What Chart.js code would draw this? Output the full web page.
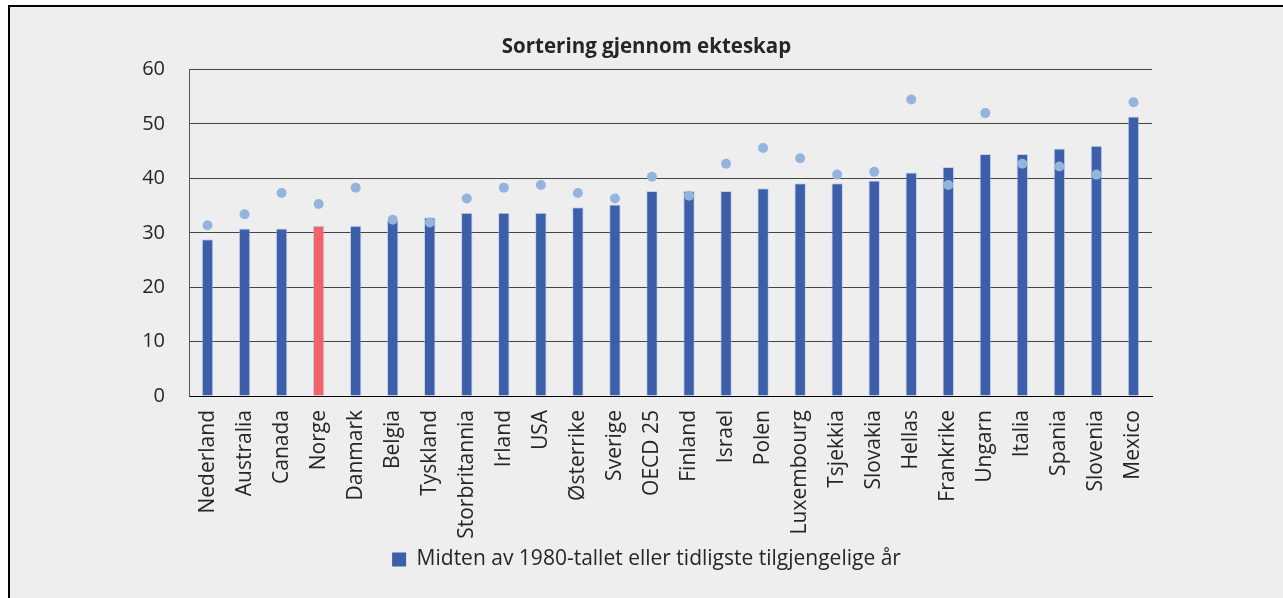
<!DOCTYPE html>
<html>
<head>
<meta charset="utf-8">
<script src="https://cdn.jsdelivr.net/npm/chart.js@4"></script>
<style>
    html, body { margin: 0; padding: 0; background: #fff; overflow: hidden; }
    #frame {
        position: absolute; left: 8px; top: 5px; width: 1275px; height: 593px;
        background: #eeeeee; border-left: 2px solid #000; border-top: 2px solid #000;
    }
    #frame canvas { display: block; }
</style>
</head>
<body>
<div id="frame"><canvas id="chart" width="1273" height="591"></canvas></div>
<script>
// Sortering gjennom ekteskap — verdier lest av bildet

const countries = [
    "Nederland", "Australia", "Canada", "Norge", "Danmark", "Belgia", "Tyskland",
    "Storbritannia", "Irland", "USA", "Østerrike", "Sverige", "OECD 25", "Finland",
    "Israel", "Polen", "Luxembourg", "Tsjekkia", "Slovakia", "Hellas", "Frankrike",
    "Ungarn", "Italia", "Spania", "Slovenia", "Mexico",
];

// Søyler: midten av 1980-tallet eller tidligste tilgjengelige år
const earliest = [
    28.8, 30.8, 30.8, 31.3, 31.3, 32.3, 32.8, 33.7, 33.7, 33.7, 34.7, 35.2, 37.7,
    37.7, 37.7, 38.2, 39.1, 39.1, 39.6, 41.1, 42.1, 44.5, 44.5, 45.5, 46.0, 51.4,
];

// Punkter: siste år
const latest = [
    31.4, 33.4, 37.3, 35.3, 38.3, 32.4, 31.9, 36.3, 38.3, 38.8, 37.3, 36.3, 40.3,
    36.8, 42.7, 45.6, 43.7, 40.7, 41.2, 54.5, 38.8, 52.0, 42.7, 42.2, 40.7, 54.0,
];

const yTicks = [0, 10, 20, 30, 40, 50, 60];

const BAR_COLOR = "#3d5ea8";
const NORWAY_COLOR = "#ef6468";
const DOT_COLOR = "#94b4de";
const TEXT_COLOR = "#262626";
const FONT = "'Open Sans', sans-serif";

const barColors = countries.map((c) => (c === "Norge" ? NORWAY_COLOR : BAR_COLOR));

new Chart(document.getElementById("chart"), {
    type: "bar",
    data: {
        labels: countries,
        datasets: [
            {
                type: "line",
                label: "Siste år",
                data: latest,
                showLine: false,
                pointRadius: 5,
                pointHoverRadius: 5,
                pointBackgroundColor: DOT_COLOR,
                pointBorderWidth: 0,
                borderColor: DOT_COLOR,
                order: 0,
            },
            {
                label: "Midten av 1980-tallet eller tidligste tilgjengelige år",
                data: earliest,
                backgroundColor: barColors,
                borderColor: "rgba(170,190,230,0.6)",
                borderWidth: 1,
                barPercentage: 0.31,
                categoryPercentage: 1,
                order: 1,
            },
        ],
    },
    options: {
        responsive: false,
        animation: false,
        layout: {padding: {top: 26, right: 0, left: 0, bottom: 18}},
        scales: {
            x: {
                grid: {display: false, drawTicks: false},
                border: {color: "#000", width: 1},
                ticks: {
                    color: TEXT_COLOR, font: {family: FONT, size: 21},
                    maxRotation: 90, minRotation: 90, padding: 14, autoSkip: false,
                },
                afterFit: (axis) => { axis.height = 143; },
            },
            y: {
                min: 0, max: 60,
                afterBuildTicks: (axis) => { axis.ticks = yTicks.map((v) => ({value: v})); },
                grid: {color: "#444", lineWidth: 1, drawTicks: false},
                border: {color: "#555", width: 1},
                ticks: {color: TEXT_COLOR, font: {family: FONT, size: 20}, padding: 24},
                afterFit: (axis) => { axis.width = 179; },
            },
            // tom akse til høyre, bare for å holde plass
            spacer: {
                position: "right",
                min: 0, max: 1,
                grid: {display: false, drawTicks: false},
                border: {display: false},
                ticks: {display: false},
                afterFit: (axis) => { axis.width = 131; },
            },
        },
        plugins: {
            title: {
                display: true,
                text: "Sortering gjennom ekteskap",
                color: TEXT_COLOR,
                font: {family: FONT, size: 20.5, weight: "bold"},
                padding: {top: 2, bottom: 10},
            },
            legend: {
                position: "bottom",
                labels: {
                    color: TEXT_COLOR,
                    font: {family: FONT, size: 21},
                    boxWidth: 14, boxHeight: 14,
                    padding: 10,
                    generateLabels: (chart) => [{
                        text: chart.data.datasets[1].label,
                        fillStyle: BAR_COLOR, strokeStyle: BAR_COLOR, lineWidth: 0,
                        datasetIndex: 1, fontColor: TEXT_COLOR,
                    }],
                },
            },
            tooltip: {enabled: false},
        },
    },
});
</script>
</body>
</html>
